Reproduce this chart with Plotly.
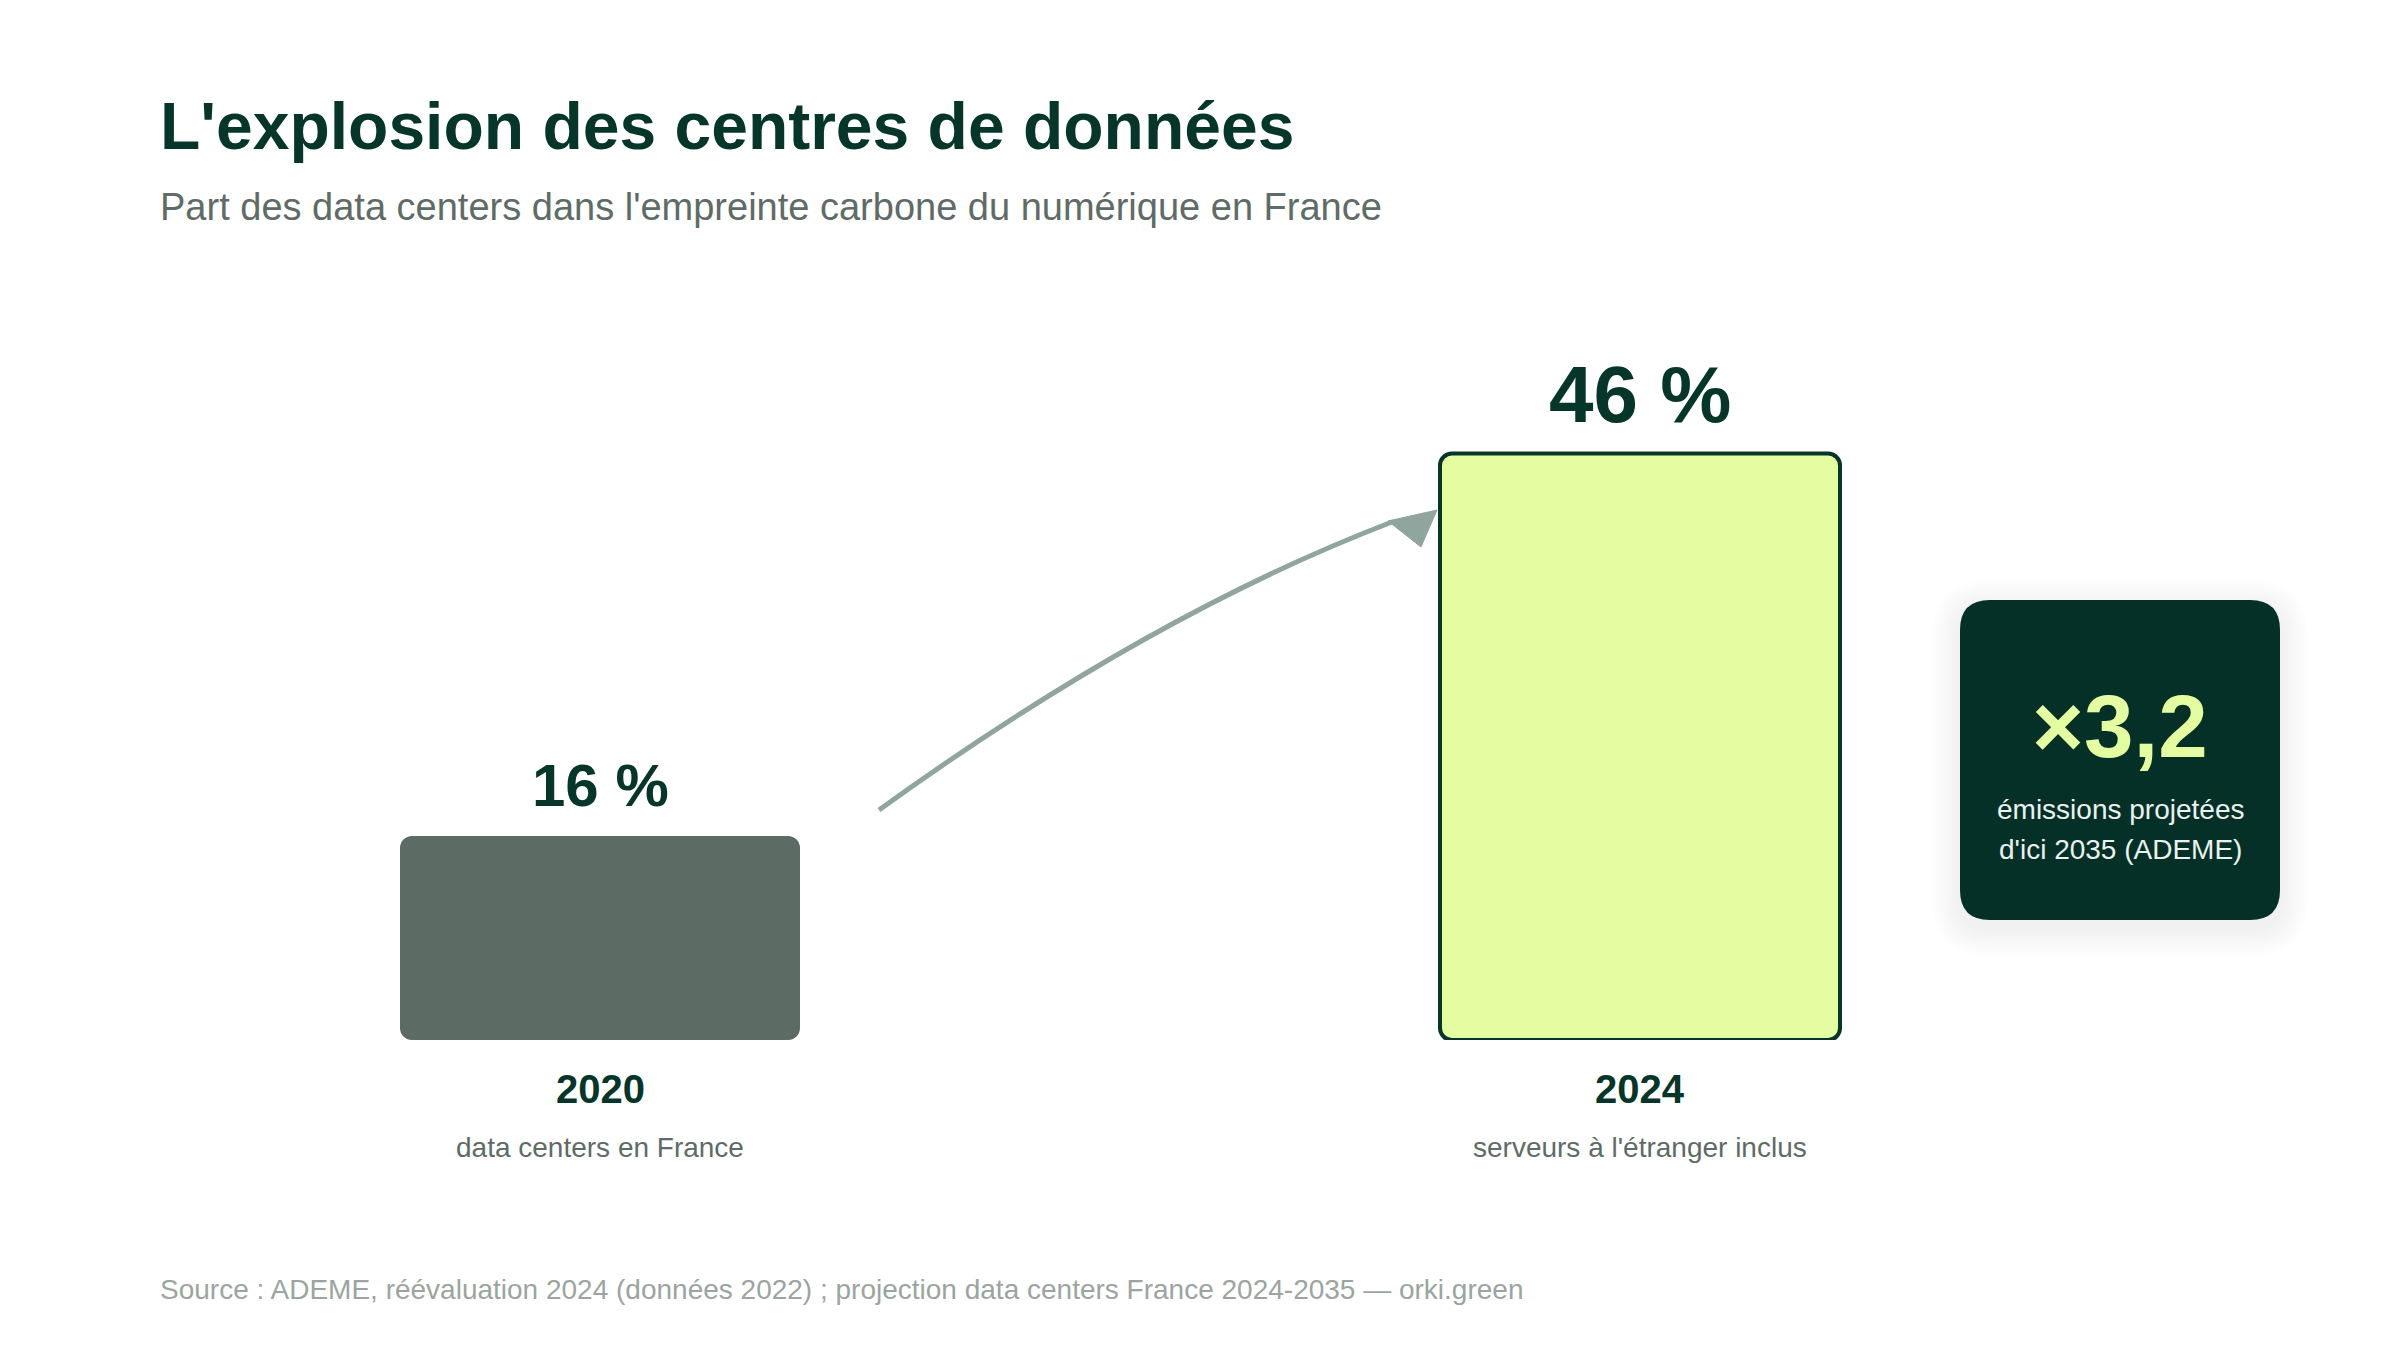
import plotly.graph_objects as go

# ---------------- data ----------------
years = ["2020", "2024"]
shares = [16, 46]                      # % of France's digital carbon footprint
share_labels = ["16 %", "46 %"]
descriptions = ["data centers en France", "serveurs à l'étranger inclus"]
multiplier_label = "×3,2"
multiplier_caption = ["émissions projetées", "d'ici 2035 (ADEME)"]
title_text = "L'explosion des centres de données"
subtitle_text = "Part des data centers dans l'empreinte carbone du numérique en France"
source_text = "Source : ADEME, réévaluation 2024 (données 2022) ; projection data centers France 2024-2035 — orki.green"

# ---------------- style ----------------
W, H = 2400, 1350
FONT = "Liberation Sans, Arial, sans-serif"
DARK = "#06352A"
BOX_BG = "#053027"
LIME = "#E5FDA1"
GREY_BAR = "#5C6B64"
SUB_GREY = "#5E6B66"
SRC_GREY = "#9AA5A0"
ARROW = "#8FA59D"
bar_fills = [GREY_BAR, LIME]
bar_lines = [0, 4]
label_sizes = [60, 80]
label_shift = [51, 59]

PX_PER_PCT = 12.75
ZERO_Y = 1040            # pixel row of the value axis baseline
bar_w = 400 / 1040       # in category units (category spacing = 1040 px)


def X(px):
    return px / W


def Y(py):
    return 1 - py / H


def rrect(x0, y0, x1, y1, r):
    p = [
        f"M{X(x0 + r)},{Y(y0)}", f"L{X(x1 - r)},{Y(y0)}",
        f"Q{X(x1)},{Y(y0)} {X(x1)},{Y(y0 + r)}", f"L{X(x1)},{Y(y1 - r)}",
        f"Q{X(x1)},{Y(y1)} {X(x1 - r)},{Y(y1)}", f"L{X(x0 + r)},{Y(y1)}",
        f"Q{X(x0)},{Y(y1)} {X(x0)},{Y(y1 - r)}", f"L{X(x0)},{Y(y0 + r)}",
        f"Q{X(x0)},{Y(y0)} {X(x0 + r)},{Y(y0)}", "Z",
    ]
    return " ".join(p)


fig = go.Figure()

for i, (yr, v) in enumerate(zip(years, shares)):
    fig.add_trace(go.Bar(
        x=[i], y=[v], base=[0], width=[bar_w],
        marker=dict(color=bar_fills[i], line=dict(width=bar_lines[i], color=DARK), cornerradius=12),
        hoverinfo="skip", showlegend=False,
    ))

annotations = []
# value labels above bars
for i, (v, lab) in enumerate(zip(shares, share_labels)):
    annotations.append(dict(
        x=i, y=v, xref="x", yref="y", text=f"<b>{lab}</b>", showarrow=False,
        yanchor="middle", yshift=label_shift[i],
        font=dict(family=FONT, size=label_sizes[i], color=DARK),
    ))
# category labels under bars
for i, (yr, d) in enumerate(zip(years, descriptions)):
    annotations.append(dict(
        x=i, y=Y(1089), xref="x", yref="paper", text=f"<b>{yr}</b>", showarrow=False,
        yanchor="middle", font=dict(family=FONT, size=40, color=DARK),
    ))
    annotations.append(dict(
        x=i, y=Y(1147), xref="x", yref="paper", text=d, showarrow=False,
        yanchor="middle", font=dict(family=FONT, size=28, color=SUB_GREY),
    ))

# title, subtitle, source
annotations += [
    dict(x=X(158), y=Y(126), xref="paper", yref="paper", xanchor="left", yanchor="middle",
         text=f"<b>{title_text}</b>", showarrow=False,
         font=dict(family=FONT, size=66, color=DARK)),
    dict(x=X(158), y=Y(207), xref="paper", yref="paper", xanchor="left", yanchor="middle",
         text=subtitle_text, showarrow=False,
         font=dict(family=FONT, size=38, color=SUB_GREY)),
    dict(x=X(158), y=Y(1289), xref="paper", yref="paper", xanchor="left", yanchor="middle",
         text=source_text, showarrow=False,
         font=dict(family=FONT, size=28, color=SRC_GREY)),
]

# multiplier card texts
annotations += [
    dict(x=X(2120), y=Y(726), xref="paper", yref="paper", xanchor="center", yanchor="middle",
         text=f"<b>{multiplier_label}</b>", showarrow=False,
         font=dict(family=FONT, size=89, color=LIME)),
    dict(x=X(2120), y=Y(809), xref="paper", yref="paper", xanchor="center", yanchor="middle",
         text=multiplier_caption[0], showarrow=False,
         font=dict(family=FONT, size=28, color="#EAF2EE")),
    dict(x=X(2120), y=Y(849), xref="paper", yref="paper", xanchor="center", yanchor="middle",
         text=multiplier_caption[1], showarrow=False,
         font=dict(family=FONT, size=28, color="#EAF2EE")),
]

shapes = []
# card shadow
for k in range(1, 8):
    e = k * 4
    shapes.append(dict(type="path", xref="paper", yref="paper", layer="below",
                       path=rrect(1960 - e, 600 - e + 8, 2280 + e, 920 + e + 8, 30 + e),
                       fillcolor="rgba(20,40,35,0.009)", line=dict(width=0)))
# card
shapes.append(dict(type="path", xref="paper", yref="paper",
                   path=rrect(1960, 600, 2280, 920, 30),
                   fillcolor=BOX_BG, line=dict(width=0), layer="below"))
# curved arrow
shapes.append(dict(type="path", xref="paper", yref="paper",
                   path=f"M{X(879)},{Y(810)} Q{X(1149)},{Y(615)} {X(1392)},{Y(522)}",
                   line=dict(color=ARROW, width=5)))
shapes.append(dict(type="path", xref="paper", yref="paper",
                   path=f"M{X(1437)},{Y(510)} L{X(1388)},{Y(521)} L{X(1421)},{Y(547)} Z",
                   fillcolor=ARROW, line=dict(color=ARROW, width=1)))

fig.update_layout(
    width=W, height=H,
    margin=dict(l=0, r=0, t=0, b=0),
    paper_bgcolor="white", plot_bgcolor="white",
    barmode="overlay",
    showlegend=False,
    xaxis=dict(domain=[X(80), X(2160)], range=[-0.5, 1.5], visible=False, fixedrange=True),
    yaxis=dict(domain=[Y(ZERO_Y), 1], range=[0, ZERO_Y / PX_PER_PCT], visible=False, fixedrange=True),
    annotations=annotations,
    shapes=shapes,
)

fig.write_html("out.html")
